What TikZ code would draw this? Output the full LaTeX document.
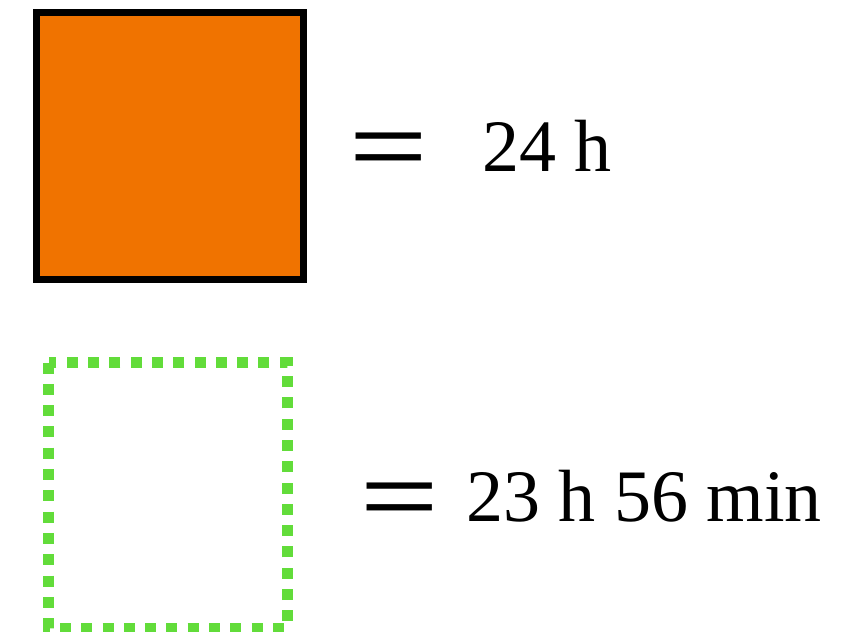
\documentclass[tikz,border=0pt]{standalone}
\usepackage{fontspec}
\setmainfont{Liberation Serif}
\newfontfamily\eqfont{Liberation Sans}
\definecolor{sqorange}{RGB}{240,115,0}
\definecolor{sqgreen}{RGB}{98,220,58}
\newcommand{\eqglyph}{\scalebox{0.96}[0.62]{\eqfont\fontsize{140}{140}\selectfont =}}
\begin{document}
\begin{tikzpicture}[x=1pt,y=-1pt,
  lbl/.style={inner sep=0pt,anchor=base west,font=\fontsize{74}{80}\selectfont},
  eqsign/.style={inner sep=0pt,anchor=center}]
\useasboundingbox (0,0) rectangle (844,632);
\draw[line width=7pt,fill=sqorange,line join=miter] (36.5,12) rectangle (303,279);
\draw[line width=11pt,sqgreen,dash pattern=on 11pt off 10.3pt] (48.5,362.5) rectangle (287.5,628);
\node[eqsign] (eq1) at (388.5,154) {\eqglyph};
\node[lbl] (t1) at (482,171) {24 h};
\node[eqsign] (eq2) at (400,504) {\eqglyph};
\node[lbl] (t2) at (466,521) {23 h 56 min};
\end{tikzpicture}
\end{document}
